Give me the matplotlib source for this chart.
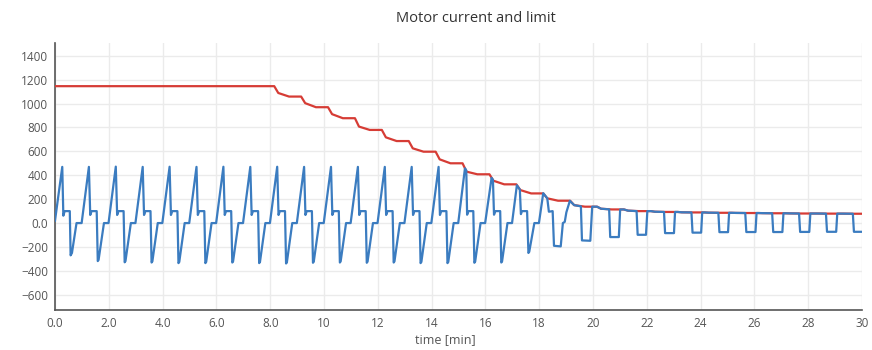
import matplotlib
matplotlib.use("Agg")
import matplotlib.pyplot as plt

# ---------------- data ----------------
title = "Motor current and limit"
xlabel = "time [min]"

x_ticks = [0, 2, 4, 6, 8, 10, 12, 14, 16, 18, 20, 22, 24, 26, 28, 30]
x_tick_labels = ["0.0", "2.0", "4.0", "6.0", "8.0", "10", "12", "14", "16",
                 "18", "20", "22", "24", "26", "28", "30"]
y_ticks = [-600, -400, -200, 0, 200, 400, 600, 800, 1000, 1200, 1400]
y_tick_labels = ["\u2212600", "\u2212400", "\u2212200", "0.0", "200", "400",
                 "600", "800", "1000", "1200", "1400"]

# current limit (red)
limit_t = [0.00, 8.15, 8.30, 8.70, 9.15, 9.30, 9.70, 10.15, 10.30, 10.70,
           11.15, 11.30, 11.70, 12.15, 12.30, 12.70, 13.15, 13.30, 13.70,
           14.15, 14.30, 14.70, 15.15, 15.30, 15.70, 16.15, 16.30, 16.70,
           17.15, 17.30, 17.70, 18.15, 18.30, 18.70, 19.15, 19.30, 19.70,
           20.15, 20.30, 20.70, 21.15, 21.30, 21.70, 22.15, 22.30, 22.70,
           23.15, 23.30, 23.70, 24.15, 24.30, 24.70, 25.15, 25.30, 25.70,
           26.15, 26.30, 26.70, 27.15, 27.30, 27.70, 28.15, 28.30, 28.70,
           29.15, 29.30, 29.70, 30.00]
limit_v = [1145, 1145, 1088, 1058, 1058, 1003, 969, 969, 911, 877,
           877, 807, 779, 779, 717, 686, 686, 625, 597,
           597, 533, 500, 500, 430, 408, 408, 354, 324,
           324, 276, 248, 248, 207, 187, 187, 150, 137,
           137, 120, 114, 114, 104, 100, 100, 95, 93,
           93, 90, 89, 89, 87, 86, 86, 85, 84,
           84, 83, 82, 82, 81, 80, 80, 80, 79,
           79, 79, 78, 78]

# motor current (blue)
current_t = [
    0.00, 0.27, 0.31, 0.36, 0.55, 0.58, 0.63, 0.80,
    0.99, 1.26, 1.31, 1.36, 1.55, 1.59, 1.62, 1.82,
    1.99, 2.26, 2.31, 2.36, 2.55, 2.59, 2.62, 2.82,
    2.99, 3.26, 3.31, 3.36, 3.55, 3.59, 3.62, 3.82,
    3.99, 4.26, 4.31, 4.36, 4.55, 4.59, 4.62, 4.82,
    4.99, 5.26, 5.31, 5.36, 5.55, 5.59, 5.62, 5.82,
    5.99, 6.26, 6.31, 6.36, 6.55, 6.59, 6.62, 6.82,
    6.99, 7.26, 7.31, 7.36, 7.55, 7.59, 7.62, 7.82,
    7.99, 8.26, 8.31, 8.36, 8.55, 8.59, 8.62, 8.82,
    8.99, 9.26, 9.31, 9.36, 9.55, 9.59, 9.62, 9.82,
    9.99, 10.26, 10.31, 10.36, 10.55, 10.59, 10.62, 10.82,
    10.99, 11.26, 11.31, 11.36, 11.55, 11.59, 11.62, 11.82,
    11.99, 12.26, 12.31, 12.36, 12.55, 12.59, 12.62, 12.82,
    12.99, 13.26, 13.31, 13.36, 13.55, 13.59, 13.62, 13.82,
    13.99, 14.26, 14.31, 14.36, 14.55, 14.59, 14.62, 14.82,
    14.99, 15.24, 15.29, 15.32, 15.37, 15.55, 15.59, 15.62, 15.82,
    15.99, 16.23, 16.28, 16.32, 16.37, 16.55, 16.59, 16.62, 16.82,
    16.99, 17.17, 17.28, 17.32, 17.36, 17.55, 17.60, 17.63, 17.82,
    17.99, 18.15, 18.30, 18.36, 18.50, 18.55, 18.80, 18.88, 18.95, 19.01,
    19.14, 19.30, 19.55, 19.59, 19.90, 19.97,
    20.15, 20.30, 20.60, 20.64, 20.96, 21.01,
    21.15, 21.30, 21.62, 21.66, 21.97, 22.02,
    22.15, 22.30, 22.64, 22.68, 23.01, 23.05,
    23.15, 23.30, 23.66, 23.70, 24.02, 24.06,
    24.15, 24.30, 24.66, 24.70, 25.02, 25.06,
    25.15, 25.30, 25.66, 25.70, 26.04, 26.08,
    26.15, 26.30, 26.66, 26.70, 27.04, 27.08,
    27.15, 27.30, 27.66, 27.70, 28.04, 28.08,
    28.15, 28.30, 28.66, 28.70, 29.04, 29.08,
    29.15, 29.30, 29.66, 29.70, 30.00,
]
current_v = [
    20, 470, 62, 100, 100, -270, -250, 0,
    0, 470, 68, 100, 100, -318, -308, 0,
    0, 472, 68, 100, 100, -328, -318, 0,
    0, 470, 68, 100, 100, -330, -320, 0,
    0, 471, 68, 100, 100, -335, -325, 0,
    0, 470, 68, 100, 100, -335, -325, 0,
    0, 471, 68, 100, 100, -330, -320, 0,
    0, 470, 68, 100, 100, -335, -325, 0,
    0, 471, 68, 100, 100, -338, -328, 0,
    0, 470, 68, 100, 100, -332, -322, 0,
    0, 470, 68, 100, 100, -330, -320, 0,
    0, 470, 68, 100, 100, -332, -322, 0,
    0, 470, 68, 100, 100, -330, -320, 0,
    0, 470, 68, 100, 100, -335, -325, 0,
    0, 470, 68, 100, 100, -335, -325, 0,
    0, 458, 440, 70, 100, 100, -332, -322, 0,
    0, 378, 362, 70, 100, 100, -330, -320, 0,
    0, 316, 280, 75, 100, 100, -250, -240, 0,
    0, 250, 207, 95, 100, -190, -195, 0, 10, 90,
    186, 150, 140, -145, -148, 137,
    137, 120, 115, -117, -117, 114,
    114, 104, 100, -98, -98, 100,
    100, 95, 93, -84, -84, 93,
    93, 90, 89, -80, -80, 89,
    89, 87, 86, -76, -76, 86,
    86, 85, 84, -75, -75, 84,
    84, 83, 82, -75, -75, 82,
    82, 81, 80, -74, -74, 80,
    80, 80, 79, -73, -73, 79,
    79, 79, 78, -73, -73,
]

# ---------------- plotting ----------------
plt.rcParams['font.family'] = ['Open Sans', 'DejaVu Sans']

W, H = 872, 350
fig = plt.figure(figsize=(W / 100, H / 100), dpi=100)
left, right, top, bottom = 55, 862, 43, 310
ax = fig.add_axes([left / W, 1 - bottom / H, (right - left) / W, (bottom - top) / H])

ax.plot(limit_t, limit_v, color='#d63c35', lw=1.6, solid_joinstyle='round', zorder=3)
ax.plot(current_t, current_v, color='#3b7cc0', lw=1.6, solid_joinstyle='round', zorder=4)

ax.set_xlim(0, 30)
ax.set_ylim(-727, 1506)
ax.set_xticks(x_ticks)
ax.set_xticklabels(x_tick_labels)
ax.set_yticks(y_ticks)
ax.set_yticklabels(y_tick_labels)
ax.tick_params(length=0, labelsize=8.5, colors='#555555', pad=5)
ax.grid(True, color='#ebebeb', lw=1)
ax.set_axisbelow(True)
for s in ['top', 'right']:
    ax.spines[s].set_visible(False)
for s in ['left', 'bottom']:
    ax.spines[s].set_color('#555555')
    ax.spines[s].set_linewidth(1.2)

fig.text(476 / W, 1 - 18 / H, title, ha='center', va='center', fontsize=10.5, color='#333333')
fig.text(445 / W, 1 - 340 / H, xlabel, ha='center', va='center', fontsize=9, color='#555555')

fig.savefig('out.png', dpi=100, facecolor='white')
